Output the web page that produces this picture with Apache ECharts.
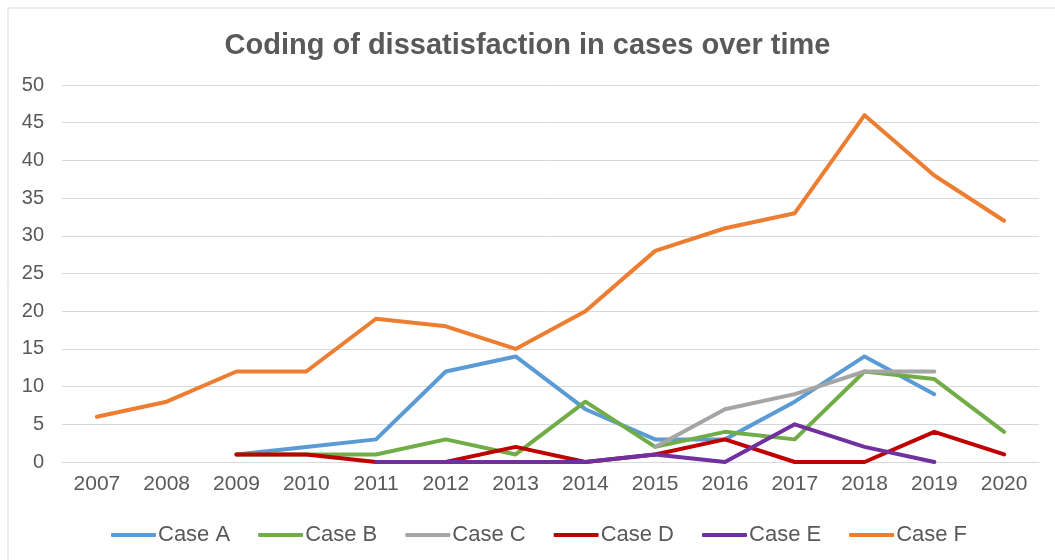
<!DOCTYPE html>
<html>
<head>
<meta charset="utf-8">
<script src="https://cdn.jsdelivr.net/npm/echarts@6/dist/echarts.min.js"></script>
<style>
  html, body { margin: 0; padding: 0; background: #ffffff; }
  #chart { width: 1055px; height: 560px; }
</style>
</head>
<body>
<div id="chart"></div>
<script>
// Years on the category axis
const years = ['2007', '2008', '2009', '2010', '2011', '2012', '2013', '2014', '2015', '2016', '2017', '2018', '2019', '2020'];

// Coded dissatisfaction counts per case (null = no data that year)
const caseA = [null, null, 1, 2, 3, 12, 14, 7, 3, 3, 8, 14, 9, null];
const caseB = [null, null, 1, 1, 1, 3, 1, 8, 2, 4, 3, 12, 11, 4];
const caseC = [null, null, null, null, null, null, null, null, 2, 7, 9, 12, 12, null];
const caseD = [null, null, 1, 1, 0, 0, 2, 0, 1, 3, 0, 0, 4, 1];
const caseE = [null, null, null, null, 0, 0, 0, 0, 1, 0, 5, 2, 0, null];
const caseF = [6, 8, 12, 12, 19, 18, 15, 20, 28, 31, 33, 46, 38, 32];

const seriesNames = ['Case A', 'Case B', 'Case C', 'Case D', 'Case E', 'Case F'];
const seriesData = [caseA, caseB, caseC, caseD, caseE, caseF];
const seriesColors = ['#5B9BD5', '#70AD47', '#A5A5A5', '#C00000', '#7030A0', '#ED7D31'];

const textColor = '#595959';
const fontFamily = '"Liberation Sans", Arial, sans-serif';

const chart = echarts.init(document.getElementById('chart'), null, { renderer: 'canvas' });

chart.setOption({
  backgroundColor: '#ffffff',
  animation: false,
  textStyle: { fontFamily: fontFamily },
  graphic: [{
    type: 'rect',
    shape: { x: 8, y: 8, width: 1070, height: 570 },
    style: { fill: 'none', stroke: '#d9d9d9', lineWidth: 1 },
    silent: true,
    z: -1
  }],
  title: {
    text: 'Coding of dissatisfaction in cases over time',
    left: 'center',
    top: 26,
    textStyle: { fontFamily: fontFamily, fontSize: 29, fontWeight: 'bold', color: textColor }
  },
  legend: {
    data: seriesNames,
    top: 519,
    left: 106,
    icon: 'roundRect',
    itemWidth: 45,
    itemHeight: 4,
    itemGap: 28,
    textStyle: { fontFamily: fontFamily, fontSize: 22, color: textColor, padding: [0, 0, 0, -3] }
  },
  grid: { left: 62, right: 16, top: 85, bottom: 98, containLabel: false },
  xAxis: {
    type: 'category',
    data: years,
    boundaryGap: true,
    axisLine: { show: true, lineStyle: { color: '#d9d9d9', width: 1 } },
    axisTick: { show: false },
    axisLabel: { color: textColor, fontSize: 21, margin: 12, fontFamily: fontFamily }
  },
  yAxis: {
    type: 'value',
    min: 0,
    max: 50,
    interval: 5,
    axisLine: { show: false },
    axisTick: { show: false },
    axisLabel: { color: textColor, fontSize: 20, margin: 18, fontFamily: fontFamily },
    splitLine: { lineStyle: { color: '#d9d9d9', width: 1 } }
  },
  series: seriesNames.map((name, i) => ({
    name: name,
    type: 'line',
    data: seriesData[i],
    symbol: 'none',
    smooth: false,
    connectNulls: false,
    color: seriesColors[i],
    lineStyle: { width: 4, color: seriesColors[i], cap: 'round', join: 'round' },
    z: 2 + i
  }))
});
</script>
</body>
</html>
